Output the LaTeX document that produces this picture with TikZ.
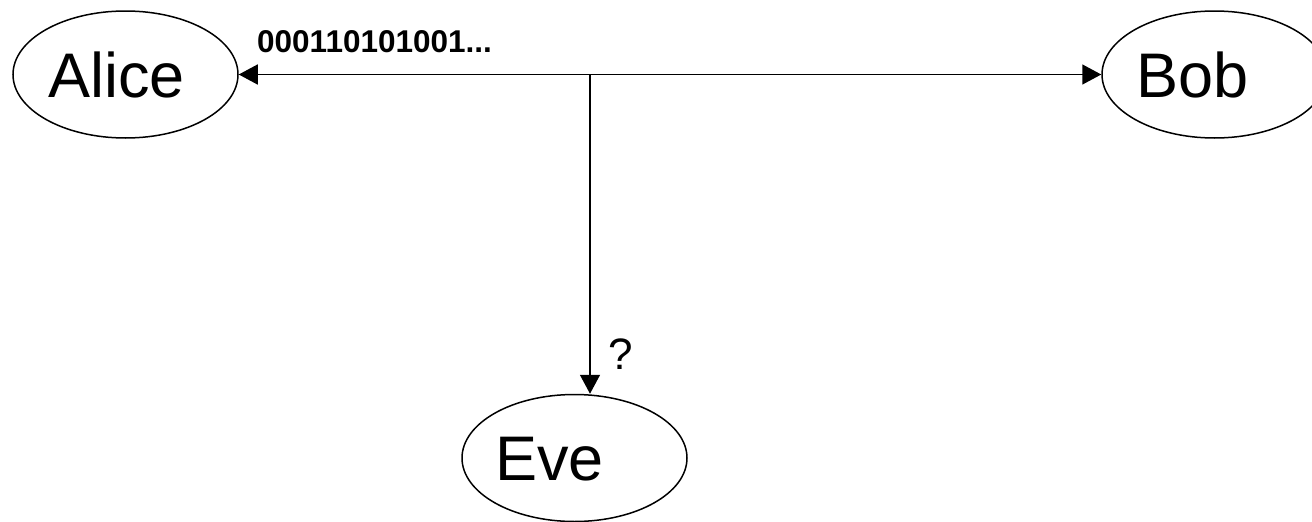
\documentclass[tikz,border=0pt]{standalone}
\usepackage{fontspec}
\setmainfont{Liberation Sans}
\usetikzlibrary{arrows.meta,shapes.geometric}

\tikzset{
  party/.style={draw, ellipse, line width=1.5pt, minimum width=225pt,
    minimum height=127pt, inner sep=0pt},
  partytext/.style={anchor=base west, inner sep=0pt,
    font=\fontsize{63}{70}\selectfont},
  channel/.style={line width=1.5pt, -{Triangle[length=19pt,width=20pt]}},
  bitstext/.style={anchor=base west, inner sep=0pt,
    font=\bfseries\fontsize{31.5}{36}\selectfont},
  querytext/.style={anchor=base west, inner sep=0pt,
    font=\fontsize{44}{50}\selectfont}
}

\begin{document}
\begin{tikzpicture}[x=1pt, y=-1pt]
  \useasboundingbox (0,0) rectangle (1312,522);
  \clip (0,0) rectangle (1312,522);

  % parties
  \node[party] (alice) at (125.5,74.5) {};
  \node[party] (bob)   at (1214.5,74.5) {};
  \node[party] (eve)   at (574.5,458) {};

  \node[partytext] (alicetxt) at ([xshift=36pt,yshift=-22.5pt]alice.west) {Alice};
  \node[partytext] (bobtxt)   at ([xshift=35pt,yshift=-22.5pt]bob.west) {Bob};
  \node[partytext] (evetxt)   at ([xshift=34pt,yshift=-22pt]eve.west) {Eve};

  % channel between Alice and Bob, tapped by Eve
  \coordinate (tap) at (590,74.5);
  \draw[channel] (tap) -- (alice.east);
  \draw[channel] (tap) -- (bob.west);
  \draw[channel] (tap) -- (tap |- eve.north);

  % labels
  \node[bitstext] (stream) at (257,52) {000110101001...};
  \node[querytext] (q) at (608,369) {?};
\end{tikzpicture}
\end{document}
